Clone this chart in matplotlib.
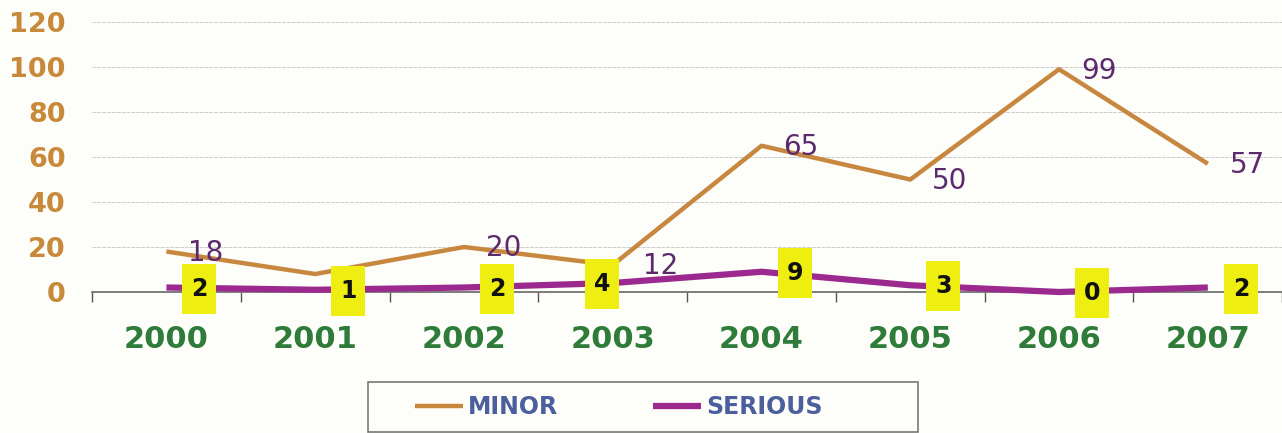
import matplotlib.pyplot as plt
import numpy as np
from matplotlib.patches import Rectangle
from matplotlib.transforms import ScaledTranslation

# DATA
years = ['2000', '2001', '2002', '2003', '2004', '2005', '2006', '2007']
minor = [18, 8, 20, 12, 65, 50, 99, 57]
serious = [2, 1, 2, 4, 9, 3, 0, 2]
# the 2001 minor label sits under the yellow "1" box in the original, so it is not shown
minor_shown = [True, False, True, True, True, True, True, True]
yticks = [0, 20, 40, 60, 80, 100, 120]

# colours
c_minor = '#C8873F'
c_serious = '#9C2A8E'
c_ytick = '#C88A3A'
c_xtick = '#2F7B3A'
c_lab = '#5C2A6C'
c_leg = '#4B5E9E'
bg = '#FDFDFA'

fig = plt.figure(figsize=(12.82, 4.33), dpi=100, facecolor=bg)
ax = fig.add_axes([0.0718, 0.3256, 0.933, 0.6236], facecolor=bg)

x = np.arange(len(years))
ln_minor, = ax.plot(x, minor, color=c_minor, lw=3.2, solid_capstyle='butt', clip_on=False, zorder=3)
ln_serious, = ax.plot(x, serious, color=c_serious, lw=4.5, solid_capstyle='butt', clip_on=False, zorder=3)

# minor labels, to the right of the points
for xi, v, show in zip(x, minor, minor_shown):
    if not show:
        continue
    dx = 30 if v == 12 else 22
    ax.annotate(str(v), (xi, v), xytext=(dx * 0.72, -1), textcoords='offset points',
                ha='left', va='center', fontsize=20, color=c_lab, zorder=5)

# serious labels in tall yellow boxes (offsets in pixels, dpi=100)
for xi, v in zip(x, serious):
    dx = -11 if v == 4 else 33
    dy = -1
    trans = fig.dpi_scale_trans + ScaledTranslation(xi, v, ax.transData)
    ax.add_patch(Rectangle(((dx - 17) / 100, (dy - 25) / 100), 0.34, 0.50,
                           transform=trans, fc='#EEEE10', ec='none', zorder=6, clip_on=False))
    ax.annotate(str(v), (xi, v), xytext=(dx * 0.72, dy * 0.72), textcoords='offset points',
                ha='center', va='center', fontsize=17, fontweight='bold', color='#111111',
                zorder=7, annotation_clip=False)

ax.set_xlim(-0.5, 7.54)
ax.set_ylim(0, 120)
ax.set_yticks(yticks)
ax.set_yticklabels([str(t) for t in yticks])
ax.tick_params(axis='y', length=0, pad=19, labelsize=19.5, labelcolor=c_ytick)
for lab in ax.get_yticklabels():
    lab.set_fontweight('bold')

ax.set_xticks(x)
ax.set_xticklabels(years)
ax.set_xticks(np.arange(-0.5, 8, 1), minor=True)
ax.tick_params(axis='x', which='major', length=0, pad=24, labelsize=22, labelcolor=c_xtick)
ax.tick_params(axis='x', which='minor', length=7, width=1, color='#555555', direction='out')
for lab in ax.get_xticklabels():
    lab.set_fontweight('bold')

ax.grid(axis='y', color='#CCCCCC', lw=0.7, ls=(0, (4, 1)))
for s in ['top', 'right', 'left']:
    ax.spines[s].set_visible(False)
ax.spines['bottom'].set_color('#666666')
ax.spines['bottom'].set_linewidth(1.2)

# legend frame drawn separately, entries placed inside it
fig.patches.append(Rectangle((368 / 1282, 1 / 433), 550 / 1282, 50 / 433,
                             transform=fig.transFigure, fc=bg, ec='#777777', lw=1.2))
leg = fig.legend([ln_minor, ln_serious], ['MINOR', 'SERIOUS'], loc='center left',
                 bbox_to_anchor=(415 / 1282, 1 - 407 / 433), ncol=2, frameon=False,
                 fontsize=17, handlelength=2.05, columnspacing=4.0, borderpad=0,
                 borderaxespad=0, handletextpad=0.2)
for t in leg.get_texts():
    t.set_color(c_leg)
    t.set_fontweight('bold')

fig.savefig('out.png', dpi=100, facecolor=bg)
